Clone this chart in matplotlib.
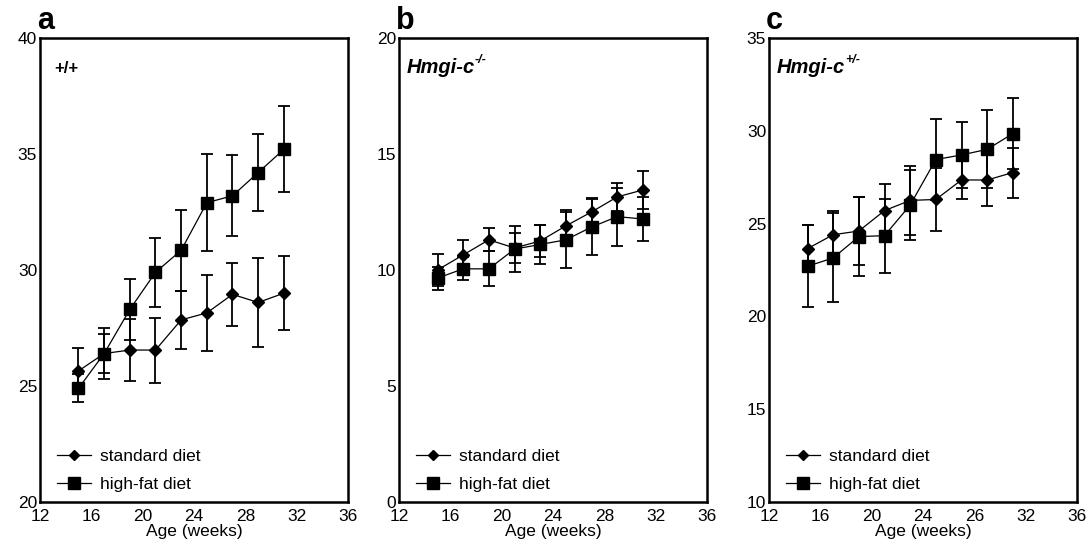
import numpy as np
import matplotlib
matplotlib.use("Agg")
import matplotlib.pyplot as plt
from matplotlib.lines import Line2D

plt.rcParams['font.family'] = ['Liberation Sans', 'DejaVu Sans']

weeks = [15, 17, 19, 21, 23, 25, 27, 29, 31]

# panel a: +/+
a_std = [25.65, 26.4, 26.55, 26.55, 27.85, 28.15, 28.95, 28.6, 29.0]
a_std_err = [1.0, 0.85, 1.35, 1.4, 1.25, 1.65, 1.35, 1.9, 1.6]
a_hf = [24.9, 26.4, 28.3, 29.9, 30.85, 32.9, 33.2, 34.2, 35.2]
a_hf_err = [0.6, 1.1, 1.3, 1.5, 1.75, 2.1, 1.75, 1.65, 1.85]

# panel b: Hmgi-c -/-
b_std = [10.0, 10.65, 11.3, 10.95, 11.25, 11.9, 12.5, 13.15, 13.45]
b_std_err = [0.7, 0.65, 0.5, 0.65, 0.7, 0.7, 0.6, 0.6, 0.8]
b_hf = [9.65, 10.05, 10.05, 10.9, 11.1, 11.3, 11.85, 12.3, 12.2]
b_hf_err = [0.5, 0.5, 0.75, 1.0, 0.85, 1.2, 1.2, 1.25, 0.95]

# panel c: Hmgi-c +/-
c_std = [23.65, 24.4, 24.6, 25.7, 26.25, 26.3, 27.35, 27.35, 27.75]
c_std_err = [1.25, 1.3, 1.85, 1.45, 1.85, 1.7, 1.0, 1.4, 1.35]
c_hf = [22.7, 23.15, 24.3, 24.35, 26.0, 28.45, 28.7, 29.0, 29.85]
c_hf_err = [2.2, 2.4, 2.15, 2.0, 1.9, 2.2, 1.8, 2.1, 1.9]

panels = [
    ("a", "+/+", None, (20, 40), [20, 25, 30, 35, 40], a_std, a_std_err, a_hf, a_hf_err,
     ["12", "16", "20", "24", "28", "32", "36"]),
    ("b", "Hmgi-c", "-/-", (0, 20), [0, 5, 10, 15, 20], b_std, b_std_err, b_hf, b_hf_err,
     ["12", "16", "20", "24", "28", "32", "36"]),
    ("c", "Hmgi-c", "+/-", (10, 35), [10, 15, 20, 25, 30, 35], c_std, c_std_err, c_hf, c_hf_err,
     ["12", "16", "20", "24", "26", "32", "36"]),
]
xticks = [12, 16, 20, 24, 28, 32, 36]

fig = plt.figure(figsize=(10.87, 5.51), dpi=100)
lefts = [40, 399, 769]
W, H = 1087.0, 551.0

for left, (tag, geno, sup, ylim, yticks, s, se, h, he, xtl) in zip(lefts, panels):
    ax = fig.add_axes([left / W, 1 - 502 / H, 308 / W, 464 / H])
    ax.errorbar(weeks, s, yerr=se, color="black", lw=0.9, elinewidth=1.3, capsize=4,
                capthick=1.3, marker="D", ms=6.5)
    ax.errorbar(weeks, h, yerr=he, color="black", lw=0.9, elinewidth=1.3, capsize=4,
                capthick=1.3, marker="s", ms=8.5)
    ax.set_xlim(12, 36)
    ax.set_ylim(*ylim)
    ax.set_xticks(xticks)
    ax.set_xticklabels(xtl)
    ax.set_yticks(yticks)
    ax.tick_params(length=0, labelsize=12.5)
    ax.tick_params(axis="x", pad=5)
    ax.tick_params(axis="y", pad=2)
    for sp in ax.spines.values():
        sp.set_linewidth(1.8)
    ax.set_xlabel("Age (weeks)", fontsize=12.5, labelpad=0)
    ax.text(-0.01, 1.005, tag, transform=ax.transAxes, fontsize=22, fontweight="bold",
            va="bottom", ha="left")
    if sup is None:
        ax.text(0.045, 0.925, geno, transform=ax.transAxes, fontsize=12, fontweight="bold",
                va="baseline")
    else:
        t = ax.text(0.025, 0.925, geno, transform=ax.transAxes, fontsize=14.5,
                    fontweight="bold", style="italic", va="baseline")
        ax.annotate(sup, xy=(1.0, 0.55), xycoords=t, fontsize=9, fontweight="bold",
                    style="italic", va="bottom", ha="left")
    handles = [
        Line2D([], [], color="black", lw=0.9, marker="D", ms=5.5),
        Line2D([], [], color="black", lw=0.9, marker="s", ms=8),
    ]
    ax.legend(handles, ["standard diet", "high-fat diet"], loc="lower left",
              bbox_to_anchor=(0.02, 0.0), frameon=False, fontsize=12.5, handlelength=2.0,
              handletextpad=0.5, labelspacing=0.7, borderaxespad=0.2)

fig.savefig("out.png", dpi=100)
